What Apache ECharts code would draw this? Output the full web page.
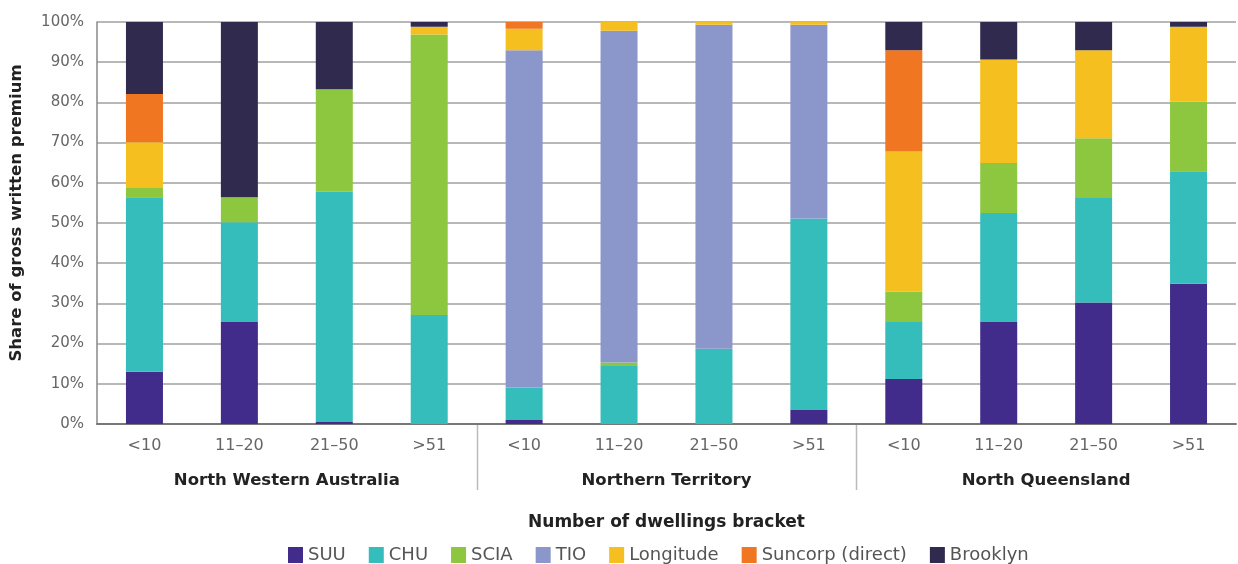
<!DOCTYPE html>
<html>
<head>
<meta charset="utf-8">
<script src="https://cdn.jsdelivr.net/npm/echarts@6/dist/echarts.min.js"></script>
<style>
  html, body { margin: 0; padding: 0; background: #fff; }
  #chart { width: 1238px; height: 564px; }
</style>
</head>
<body>
<div id="chart"></div>
<script>
// brackets repeat in each region
const regions = ['North Western Australia', 'Northern Territory', 'North Queensland'];
const brackets = ['<10', '11–20', '21–50', '>51'];
const categories = [];
regions.forEach((r, i) => brackets.forEach(b => categories.push(i + '|' + b)));

// share of GWP (%), per insurer, 12 bars: NWA x4, NT x4, NQ x4
const suu       = [13.0, 25.4, 0.5, 0,    1.0, 0,    0,    3.5,  11.2, 25.4, 30.2, 34.9];
const chu       = [43.4, 24.8, 57.3, 27.1, 8.1, 14.4, 18.7, 47.6, 14.2, 27.1, 26.0, 28.0];
const scia      = [2.3,  6.2,  25.5, 69.8, 0,   0.9,  0,    0,    7.5,  12.4, 14.9, 17.3];
const tio       = [0,    0,    0,    0,    83.9, 82.5, 80.6, 48.2, 0,   0,    0,    0];
const longitude = [11.4, 0,    0,    1.9,  5.3, 2.2,  0.7,  0.7,  34.9, 25.8, 21.9, 18.6];
const suncorp   = [12.0, 0,    0,    0,    1.7, 0,    0,    0,    25.2, 0,    0,    0];
const brooklyn  = [17.9, 43.6, 16.7, 1.2,  0,   0,    0,    0,    7.0,  9.3,  7.0,  1.2];

const seriesList = [
  { name: 'SUU', data: suu, color: '#412b8b' },
  { name: 'CHU', data: chu, color: '#35bdbb' },
  { name: 'SCIA', data: scia, color: '#8dc63f' },
  { name: 'TIO', data: tio, color: '#8b96cb' },
  { name: 'Longitude', data: longitude, color: '#f5c01f' },
  { name: 'Suncorp (direct)', data: suncorp, color: '#f07622' },
  { name: 'Brooklyn', data: brooklyn, color: '#302a4f' }
];

const font = 'DejaVu Sans';
const chart = echarts.init(document.getElementById('chart'));

chart.setOption({
  animation: false,
  textStyle: { fontFamily: font },
  grid: { left: 96, right: 2, top: 22, bottom: 140 },
  legend: {
    left: 283,
    top: 541,
    itemWidth: 15,
    itemHeight: 16,
    itemGap: 23,
    icon: 'rect',
    textStyle: { fontSize: 18, color: '#555', fontFamily: font },
    data: seriesList.map(s => s.name)
  },
  xAxis: [
    {
      type: 'category',
      data: categories,
      axisLine: { lineStyle: { color: '#777', width: 2 } },
      axisTick: { show: false },
      axisLabel: {
        formatter: v => v.split('|')[1],
        margin: 14,
        fontSize: 16,
        color: '#666',
        interval: 0
      },
      name: 'Number of dwellings bracket',
      nameLocation: 'middle',
      nameGap: 90,
      nameTextStyle: { fontSize: 17, fontWeight: 'bold', color: '#222' }
    },
    {
      type: 'category',
      data: regions,
      position: 'bottom',
      axisLine: { show: false },
      axisTick: { show: false },
      axisLabel: { margin: 48, fontSize: 16.5, fontWeight: 'bold', color: '#222', interval: 0 }
    }
  ],
  yAxis: {
    type: 'value',
    min: 0,
    max: 100,
    interval: 10,
    axisLine: { show: true, lineStyle: { color: '#888', width: 1.5 } },
    axisTick: { show: false },
    axisLabel: { formatter: '{value}%', fontSize: 15, color: '#666', margin: 13 },
    splitLine: { lineStyle: { color: '#a0a0a0', width: 1.5 } },
    name: 'Share of gross written premium',
    nameLocation: 'middle',
    nameGap: 72,
    nameTextStyle: { fontSize: 16.5, fontWeight: 'bold', color: '#222', padding: [0, 0, 0, 20] }
  },
  series: seriesList.map(s => ({
    name: s.name,
    type: 'bar',
    stack: 'share',
    barWidth: 37,
    data: s.data,
    itemStyle: { color: s.color }
  }))
});

// separators between the region groups, placed from the axis scale
const y0 = chart.convertToPixel({ yAxisIndex: 0 }, 0);
const seps = [];
for (let g = 1; g < regions.length; g++) {
  const a = chart.convertToPixel({ xAxisIndex: 0 }, g * brackets.length - 1);
  const b = chart.convertToPixel({ xAxisIndex: 0 }, g * brackets.length);
  const x = Math.round((a + b) / 2) + 0.5;
  seps.push({
    type: 'line',
    shape: { x1: x, y1: y0, x2: x, y2: y0 + 66 },
    style: { stroke: '#bbb', lineWidth: 1.5 }
  });
}
chart.setOption({ graphic: seps });
</script>
</body>
</html>
